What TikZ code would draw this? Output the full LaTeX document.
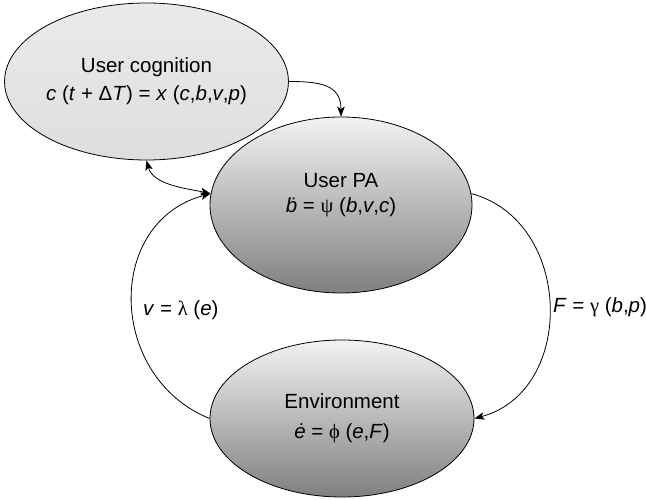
\documentclass[tikz,border=0pt]{standalone}
\usepackage{fontspec}
\setmainfont{Liberation Sans}
\newfontfamily\grk{Liberation Serif}
\usetikzlibrary{shapes.geometric,arrows.meta}
\begin{document}
\begin{tikzpicture}[x=1pt,y=1pt,
  every node/.style={font=\fontsize{20.5}{25}\selectfont},
  state/.style={ellipse, draw=black, line width=0.8pt, inner sep=0pt, align=center},
  lightstate/.style={state, top color=black!8, bottom color=black!13},
  darkstate/.style={state, top color=black!5, bottom color=black!50},
  link/.style={line width=0.8pt, -{Stealth[length=10pt,width=7.5pt,inset=2.5pt]}},
  biglink/.style={line width=0.8pt, {Stealth[length=10pt,width=7.5pt,inset=2.5pt]}-{Stealth[length=10pt,width=7.5pt,inset=2.5pt]}},
  lbl/.style={inner sep=0pt, align=center}]
\useasboundingbox (0,0) rectangle (646,499);

% the three states of the loop
\node[lightstate, minimum width=283pt, minimum height=157pt] (cog) at (146.5,417.5)
  {User cognition\\[3pt]\textit{c} (\textit{t} + Δ\textit{T}) = \textit{x} (\textit{c},\textit{b},\textit{v},\textit{p})};
\node[darkstate, minimum width=262pt, minimum height=176pt] (pa) at (341,294) {};
\node[lbl] (patext) at (341,304)
  {User PA\\[0pt]\textit{ḃ} = {\grk ψ} (\textit{b},\textit{v},\textit{c})};
\node[darkstate, minimum width=264pt, minimum height=157pt] (env) at (342,80.5)
  {Environment\\[5pt]\textit{ė} = {\grk ϕ} (\textit{e},\textit{F})};

% connectors between the states
\draw[link] (cog.east) to[out=0, in=90, looseness=1.3] (pa.north);
\draw[biglink] (cog.south) to[out=-75, in=168, looseness=0.9] (pa.175);
\draw[link] (env.west) to[out=158, in=195, looseness=1.25] (pa.175);
\draw[link] (pa.5) to[out=-15, in=15, looseness=1.2] (env.east);

% labels of the feedback paths
\node[lbl, anchor=west] (vlbl) at (143,189) {\textit{v} = {\grk λ} (\textit{e})};
\node[lbl, anchor=west] (flbl) at (553,192) {\textit{F} = {\grk γ} (\textit{b},\textit{p})};
\end{tikzpicture}
\end{document}
